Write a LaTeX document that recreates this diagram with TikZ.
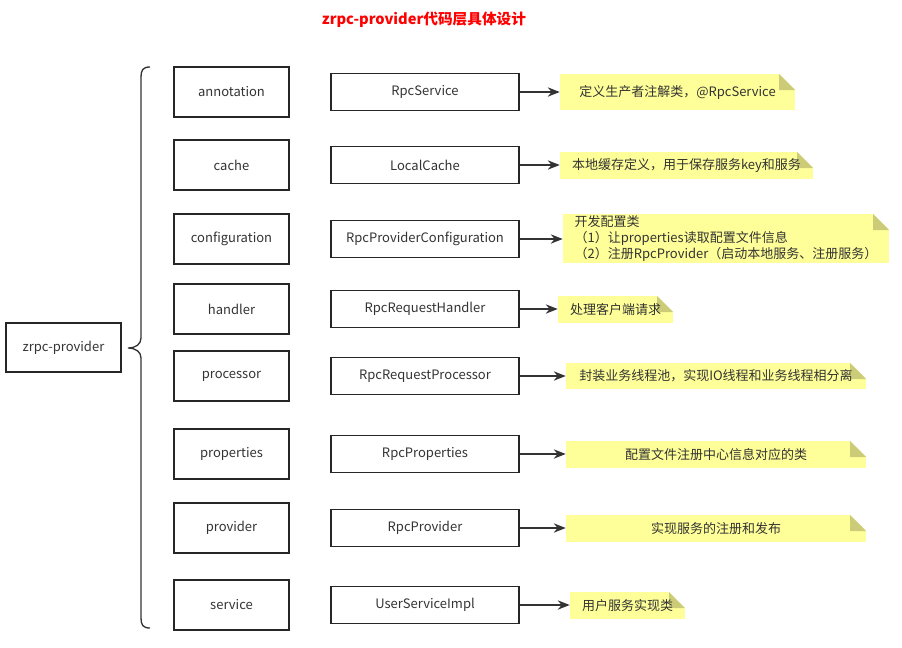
\documentclass[tikz,border=0pt]{standalone}
\usepackage{fontspec}
\setmainfont{Noto Sans CJK SC}
\usepackage{xcolor}
\usetikzlibrary{arrows.meta,positioning}
\definecolor{notefill}{HTML}{FFFF99}
\definecolor{notefold}{HTML}{CCCC78}
\definecolor{linegray}{HTML}{333333}
\newcommand{\txt}{\fontsize{9.75}{12}\selectfont}
\tikzset{
  pkg/.style={rectangle,draw=black!85,line width=1pt,minimum width=86.25pt,minimum height=37.5pt,text=linegray,font=\txt},
  cls/.style={pkg,minimum width=141pt,minimum height=27.75pt},
  note/.style={rectangle,fill=notefill,inner sep=0pt,text=linegray,font=\txt,align=left,
    path picture={
      \fill[white] (path picture bounding box.north east) -- ++(-12pt,0) -- ++(12pt,-12pt) -- cycle;
      \fill[notefold] (path picture bounding box.north east) ++(-12pt,0) -- ++(0,-12pt) -- ++(12pt,0) -- cycle;
    }},
  link/.style={draw=linegray,line width=1pt,-{Stealth[length=9pt,width=7pt]}}
}
\begin{document}
\begin{tikzpicture}[x=0.75pt,y=-0.75pt]
\useasboundingbox (0,0) rectangle (902,647);
\node[font=\fontsize{11}{13}\selectfont\bfseries,text=red] (title) at (424,20) {zrpc-provider代码层具体设计};

\node[pkg,minimum height=36.75pt] (root) at (63.5,347.5) {zrpc-provider};
\coordinate (tip) at (128,348);
\draw[draw=linegray,line width=1pt] (150,67) .. controls (143,67) and (141,70) .. (141,77) -- (141,338)
  .. controls (141,344) and (136,348) .. (tip) .. controls (136,348) and (141,352) .. (141,358)
  -- (141,618) .. controls (141,625) and (143,628) .. (150,628);

% packages
\node[pkg] (p1) at (231.5,92) {annotation};
\node[pkg] (p2) at (231.5,165) {cache};
\node[pkg] (p3) at (231.5,239) {configuration};
\node[pkg] (p4) at (231.5,309) {handler};
\node[pkg] (p5) at (231.5,376) {processor};
\node[pkg] (p6) at (231.5,454) {properties};
\node[pkg] (p7) at (231.5,528) {provider};
\node[pkg] (p8) at (231.5,605) {service};

% classes
\node[cls] (c1) at (425,92) {RpcService};
\node[cls] (c2) at (425,165) {LocalCache};
\node[cls] (c3) at (425,239) {RpcProviderConfiguration};
\node[cls] (c4) at (425,309) {RpcRequestHandler};
\node[cls] (c5) at (425,376) {RpcRequestProcessor};
\node[cls] (c6) at (425,454) {RpcProperties};
\node[cls] (c7) at (425,528) {RpcProvider};
\node[cls] (c8) at (425,605) {UserServiceImpl};

% notes
\node[note,minimum width=176.25pt,minimum height=27pt] (n1) at (677.5,92) {定义生产者注解类，@RpcService};
\node[note,minimum width=189.75pt,minimum height=20.25pt] (n2) at (686.5,165.5) {本地缓存定义，用于保存服务key和服务};
\node[note,minimum width=244.5pt,minimum height=36.75pt] (n3) at (726,238.5) {开发配置类\\（1）让properties读取配置文件信息\\（2）注册RpcProvider（启动本地服务、注册服务）};
\node[note,minimum width=86.25pt,minimum height=20.25pt] (n4) at (615.5,309.5) {处理客户端请求};
\node[note,minimum width=225pt,minimum height=19.5pt] (n5) at (716,376) {封装业务线程池，实现IO线程和业务线程相分离};
\node[note,minimum width=225pt,minimum height=20.25pt] (n6) at (716,454.5) {配置文件注册中心信息对应的类};
\node[note,minimum width=225pt,minimum height=20.25pt] (n7) at (716,528.5) {实现服务的注册和发布};
\node[note,minimum width=86.25pt,minimum height=20.25pt] (n8) at (627.5,605.5) {用户服务实现类};

\draw[link] (c1) -- (c1 -| n1.west);
\draw[link] (c2) -- (c2 -| n2.west);
\draw[link] (c3) -- (c3 -| n3.west);
\draw[link] (c4) -- (c4 -| n4.west);
\draw[link] (c5) -- (c5 -| n5.west);
\draw[link] (c6) -- (c6 -| n6.west);
\draw[link] (c7) -- (c7 -| n7.west);
\draw[link] (c8) -- (c8 -| n8.west);
\end{tikzpicture}
\end{document}
